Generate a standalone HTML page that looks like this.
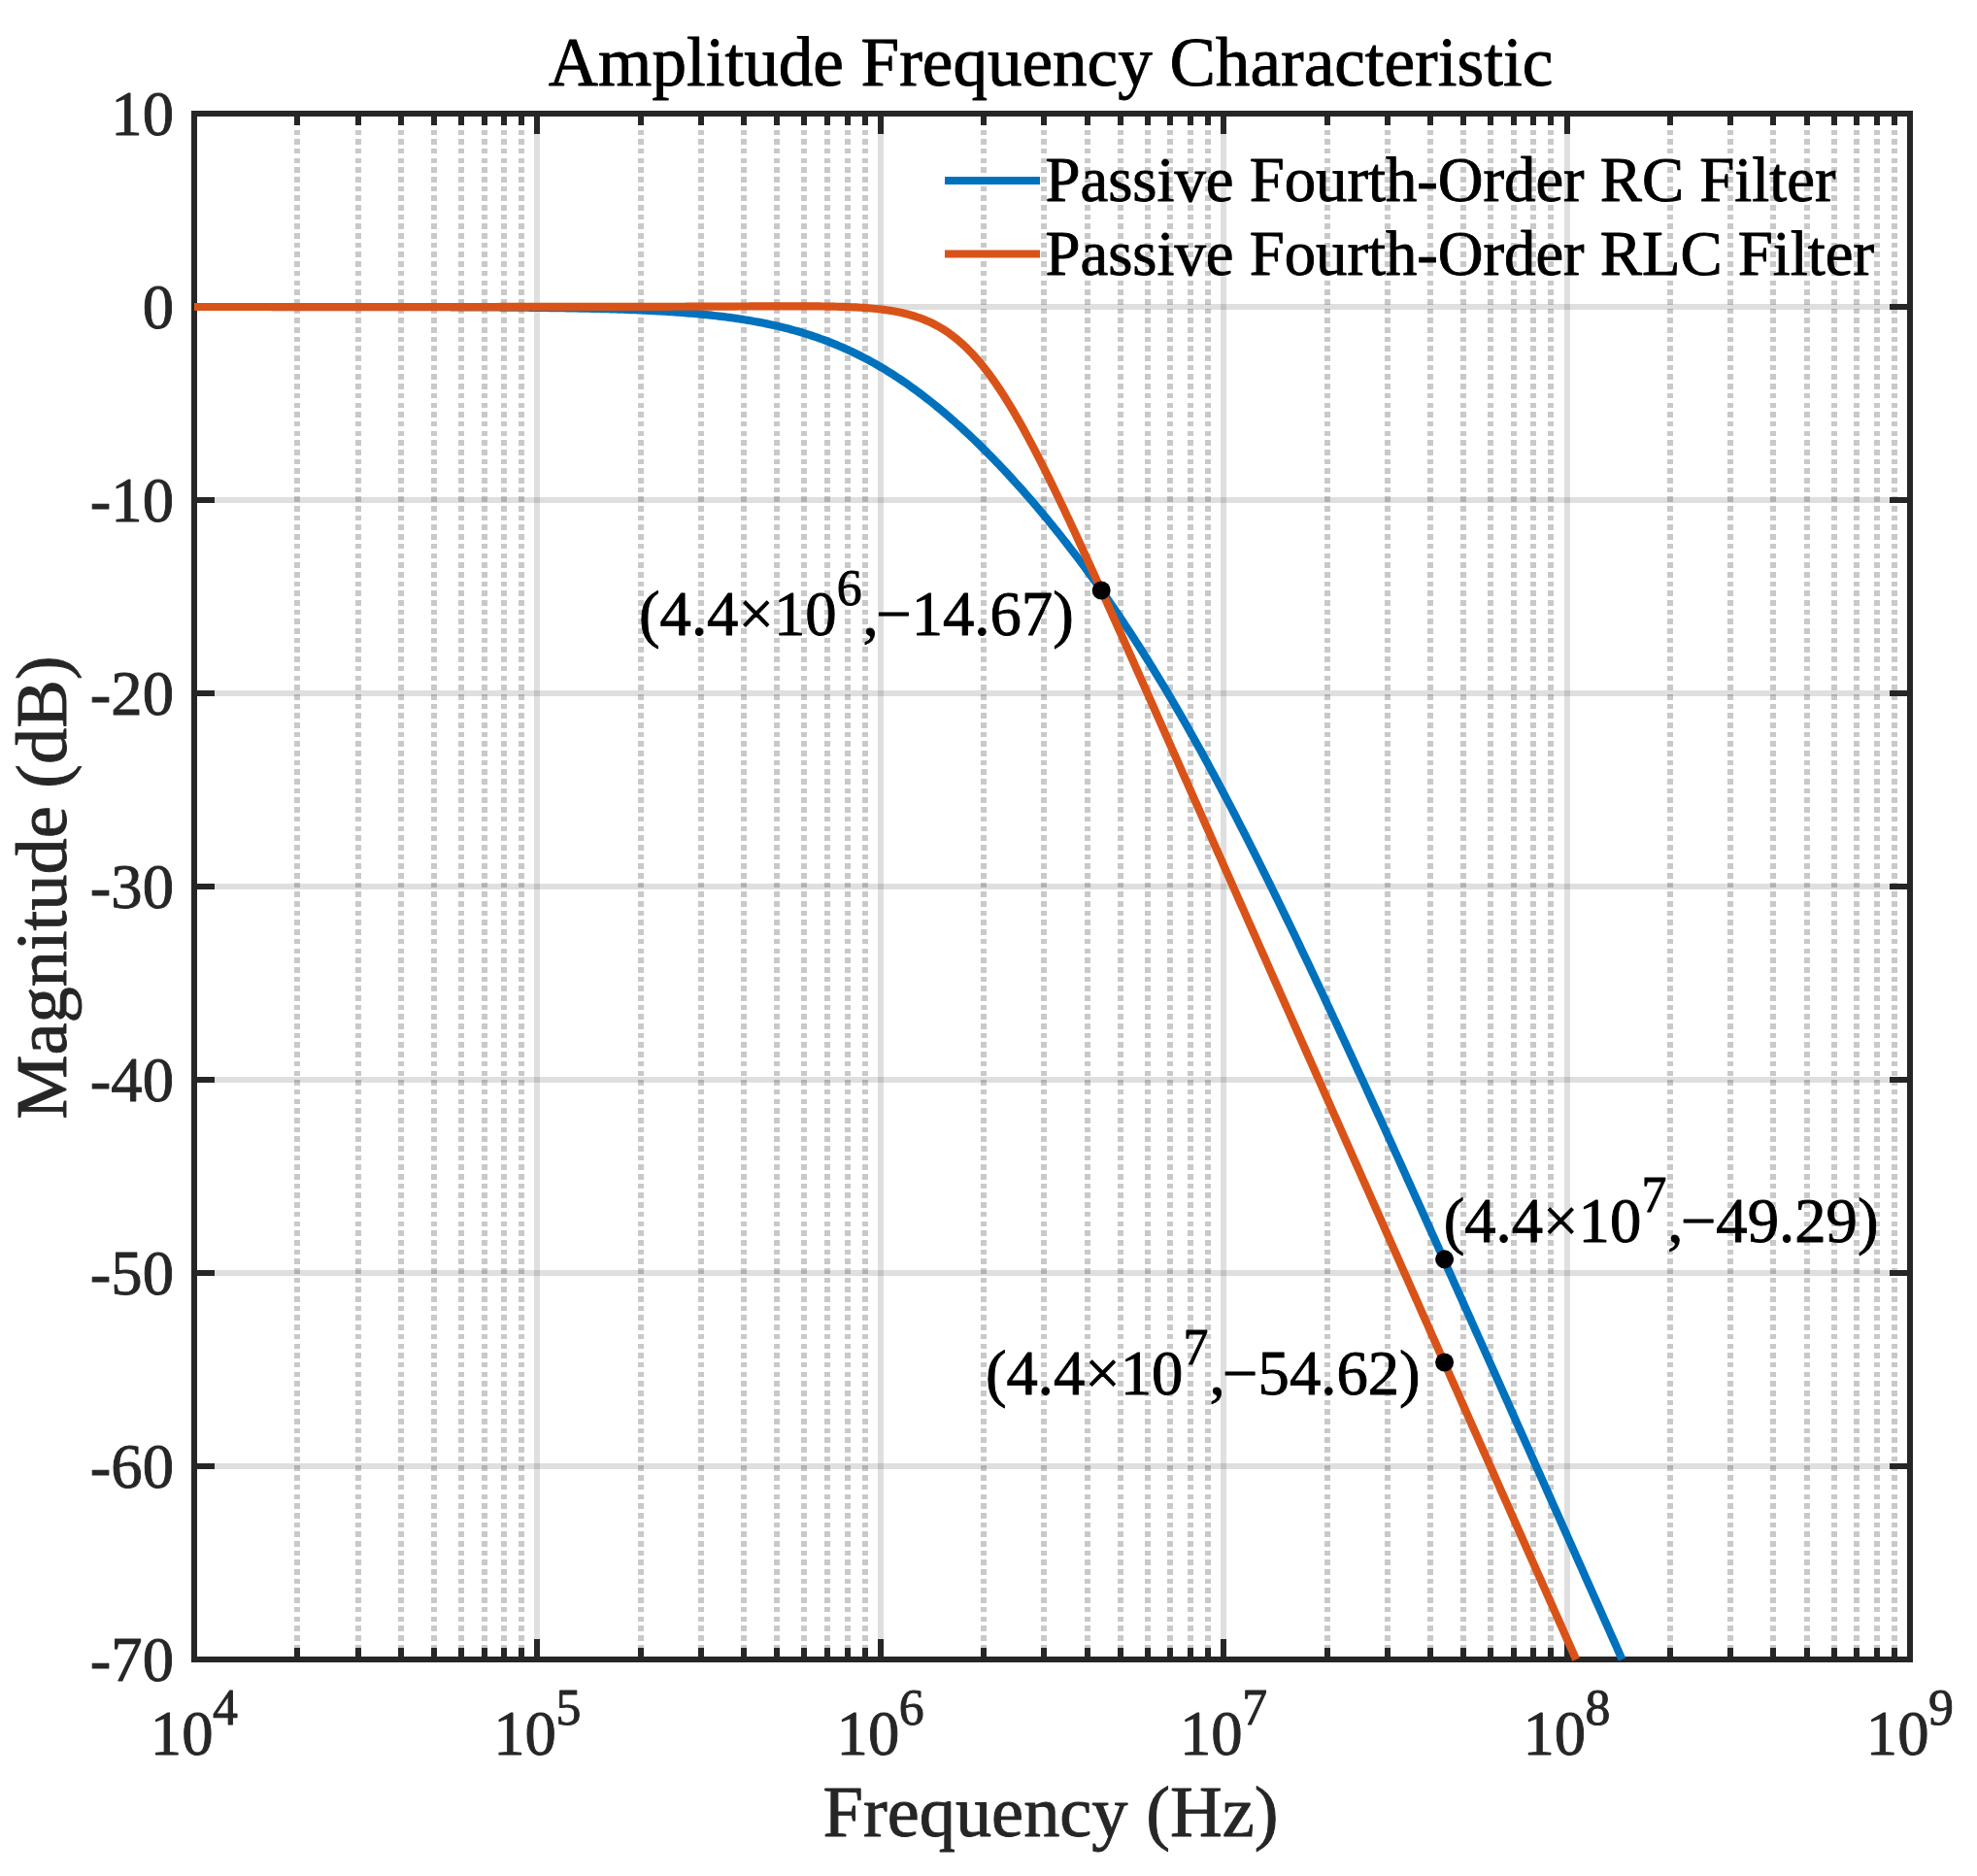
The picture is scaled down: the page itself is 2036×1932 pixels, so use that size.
<!DOCTYPE html>
<html lang="en"><head><meta charset="utf-8"><title>Amplitude Frequency Characteristic</title>
<style>html,body{margin:0;padding:0;background:#fff}body{width:2036px;height:1932px;overflow:hidden}svg{display:block}text{font-kerning:none;font-variant-ligatures:none;font-family:"Liberation Serif",serif;white-space:pre;stroke-width:0.9;stroke-linejoin:round}.k{fill:#000;stroke:#000}.g{fill:#262626;stroke:#262626}</style></head><body>
<svg width="2036" height="1932" viewBox="0 0 2036 1932">
<rect width="2036" height="1932" fill="#fff"/>
<path d="M306.38 117 V1709 M368.61 117 V1709 M412.77 117 V1709 M447.02 117 V1709 M475.00 117 V1709 M498.66 117 V1709 M519.15 117 V1709 M537.23 117 V1709 M659.78 117 V1709 M722.01 117 V1709 M766.17 117 V1709 M800.42 117 V1709 M828.40 117 V1709 M852.06 117 V1709 M872.55 117 V1709 M890.63 117 V1709 M1013.18 117 V1709 M1075.41 117 V1709 M1119.57 117 V1709 M1153.82 117 V1709 M1181.80 117 V1709 M1205.46 117 V1709 M1225.95 117 V1709 M1244.03 117 V1709 M1366.58 117 V1709 M1428.81 117 V1709 M1472.97 117 V1709 M1507.22 117 V1709 M1535.20 117 V1709 M1558.86 117 V1709 M1579.35 117 V1709 M1597.43 117 V1709 M1719.98 117 V1709 M1782.21 117 V1709 M1826.37 117 V1709 M1860.62 117 V1709 M1888.60 117 V1709 M1912.26 117 V1709 M1932.75 117 V1709 M1950.83 117 V1709" fill="none" stroke="#262626" stroke-opacity="0.25" stroke-width="6" stroke-dasharray="5.6 4.09" stroke-dashoffset="2.880" shape-rendering="crispEdges"/>
<path d="M553.40 117 V1709 M906.80 117 V1709 M1260.20 117 V1709 M1613.60 117 V1709" fill="none" stroke="#262626" stroke-opacity="0.15" stroke-width="6" shape-rendering="crispEdges"/>
<path d="M200 316.00 H1967 M200 515.00 H1967 M200 714.00 H1967 M200 913.00 H1967 M200 1112.00 H1967 M200 1311.00 H1967 M200 1510.00 H1967" fill="none" stroke="#262626" stroke-opacity="0.15" stroke-width="6" shape-rendering="crispEdges"/>
<path d="M306.38 1709 v-11.84 M306.38 117 v11.84 M368.61 1709 v-11.84 M368.61 117 v11.84 M412.77 1709 v-11.84 M412.77 117 v11.84 M447.02 1709 v-11.84 M447.02 117 v11.84 M475.00 1709 v-11.84 M475.00 117 v11.84 M498.66 1709 v-11.84 M498.66 117 v11.84 M519.15 1709 v-11.84 M519.15 117 v11.84 M537.23 1709 v-11.84 M537.23 117 v11.84 M553.40 1709 v-20.67 M553.40 117 v20.67 M659.78 1709 v-11.84 M659.78 117 v11.84 M722.01 1709 v-11.84 M722.01 117 v11.84 M766.17 1709 v-11.84 M766.17 117 v11.84 M800.42 1709 v-11.84 M800.42 117 v11.84 M828.40 1709 v-11.84 M828.40 117 v11.84 M852.06 1709 v-11.84 M852.06 117 v11.84 M872.55 1709 v-11.84 M872.55 117 v11.84 M890.63 1709 v-11.84 M890.63 117 v11.84 M906.80 1709 v-20.67 M906.80 117 v20.67 M1013.18 1709 v-11.84 M1013.18 117 v11.84 M1075.41 1709 v-11.84 M1075.41 117 v11.84 M1119.57 1709 v-11.84 M1119.57 117 v11.84 M1153.82 1709 v-11.84 M1153.82 117 v11.84 M1181.80 1709 v-11.84 M1181.80 117 v11.84 M1205.46 1709 v-11.84 M1205.46 117 v11.84 M1225.95 1709 v-11.84 M1225.95 117 v11.84 M1244.03 1709 v-11.84 M1244.03 117 v11.84 M1260.20 1709 v-20.67 M1260.20 117 v20.67 M1366.58 1709 v-11.84 M1366.58 117 v11.84 M1428.81 1709 v-11.84 M1428.81 117 v11.84 M1472.97 1709 v-11.84 M1472.97 117 v11.84 M1507.22 1709 v-11.84 M1507.22 117 v11.84 M1535.20 1709 v-11.84 M1535.20 117 v11.84 M1558.86 1709 v-11.84 M1558.86 117 v11.84 M1579.35 1709 v-11.84 M1579.35 117 v11.84 M1597.43 1709 v-11.84 M1597.43 117 v11.84 M1613.60 1709 v-20.67 M1613.60 117 v20.67 M1719.98 1709 v-11.84 M1719.98 117 v11.84 M1782.21 1709 v-11.84 M1782.21 117 v11.84 M1826.37 1709 v-11.84 M1826.37 117 v11.84 M1860.62 1709 v-11.84 M1860.62 117 v11.84 M1888.60 1709 v-11.84 M1888.60 117 v11.84 M1912.26 1709 v-11.84 M1912.26 117 v11.84 M1932.75 1709 v-11.84 M1932.75 117 v11.84 M1950.83 1709 v-11.84 M1950.83 117 v11.84 M200 316.00 h20.67 M1967 316.00 h-20.67 M200 515.00 h20.67 M1967 515.00 h-20.67 M200 714.00 h20.67 M1967 714.00 h-20.67 M200 913.00 h20.67 M1967 913.00 h-20.67 M200 1112.00 h20.67 M1967 1112.00 h-20.67 M200 1311.00 h20.67 M1967 1311.00 h-20.67 M200 1510.00 h20.67 M1967 1510.00 h-20.67" fill="none" stroke="#262626" stroke-width="6" shape-rendering="crispEdges"/>
<rect x="200" y="117" width="1767" height="1592" fill="none" stroke="#262626" stroke-width="6" shape-rendering="crispEdges"/>
<g fill="none" stroke-width="8.2" stroke-linejoin="round">
<path d="M200.00 316.01 L202.52 316.01 L205.05 316.01 L207.57 316.01 L210.10 316.01 L212.62 316.01 L215.15 316.01 L217.67 316.01 L220.19 316.01 L222.72 316.01 L225.24 316.01 L227.77 316.01 L230.29 316.01 L232.82 316.01 L235.34 316.01 L237.86 316.01 L240.39 316.01 L242.91 316.02 L245.44 316.02 L247.96 316.02 L250.49 316.02 L253.01 316.02 L255.53 316.02 L258.06 316.02 L260.58 316.02 L263.11 316.02 L265.63 316.02 L268.16 316.02 L270.68 316.02 L273.20 316.02 L275.73 316.02 L278.25 316.02 L280.78 316.03 L283.30 316.03 L285.83 316.03 L288.35 316.03 L290.87 316.03 L293.40 316.03 L295.92 316.03 L298.45 316.03 L300.97 316.03 L303.50 316.03 L306.02 316.04 L308.54 316.04 L311.07 316.04 L313.59 316.04 L316.12 316.04 L318.64 316.04 L321.17 316.04 L323.69 316.04 L326.21 316.05 L328.74 316.05 L331.26 316.05 L333.79 316.05 L336.31 316.05 L338.84 316.05 L341.36 316.06 L343.88 316.06 L346.41 316.06 L348.93 316.06 L351.46 316.06 L353.98 316.07 L356.51 316.07 L359.03 316.07 L361.55 316.07 L364.08 316.07 L366.60 316.08 L369.13 316.08 L371.65 316.08 L374.18 316.09 L376.70 316.09 L379.22 316.09 L381.75 316.09 L384.27 316.10 L386.80 316.10 L389.32 316.10 L391.85 316.11 L394.37 316.11 L396.89 316.11 L399.42 316.12 L401.94 316.12 L404.47 316.13 L406.99 316.13 L409.52 316.14 L412.04 316.14 L414.56 316.14 L417.09 316.15 L419.61 316.15 L422.14 316.16 L424.66 316.16 L427.19 316.17 L429.71 316.18 L432.23 316.18 L434.76 316.19 L437.28 316.19 L439.81 316.20 L442.33 316.21 L444.86 316.21 L447.38 316.22 L449.90 316.23 L452.43 316.24 L454.95 316.24 L457.48 316.25 L460.00 316.26 L462.53 316.27 L465.05 316.28 L467.57 316.29 L470.10 316.30 L472.62 316.31 L475.15 316.32 L477.67 316.33 L480.20 316.34 L482.72 316.35 L485.24 316.36 L487.77 316.37 L490.29 316.39 L492.82 316.40 L495.34 316.41 L497.87 316.43 L500.39 316.44 L502.91 316.46 L505.44 316.47 L507.96 316.49 L510.49 316.50 L513.01 316.52 L515.54 316.54 L518.06 316.56 L520.58 316.57 L523.11 316.59 L525.63 316.61 L528.16 316.63 L530.68 316.65 L533.21 316.68 L535.73 316.70 L538.25 316.72 L540.78 316.75 L543.30 316.77 L545.83 316.80 L548.35 316.82 L550.88 316.85 L553.40 316.88 L555.92 316.91 L558.45 316.94 L560.97 316.97 L563.50 317.00 L566.02 317.04 L568.55 317.07 L571.07 317.11 L573.59 317.14 L576.12 317.18 L578.64 317.22 L581.17 317.26 L583.69 317.30 L586.22 317.35 L588.74 317.39 L591.26 317.44 L593.79 317.48 L596.31 317.53 L598.84 317.58 L601.36 317.64 L603.89 317.69 L606.41 317.75 L608.93 317.80 L611.46 317.86 L613.98 317.93 L616.51 317.99 L619.03 318.06 L621.56 318.12 L624.08 318.19 L626.60 318.27 L629.13 318.34 L631.65 318.42 L634.18 318.50 L636.70 318.58 L639.23 318.66 L641.75 318.75 L644.27 318.84 L646.80 318.94 L649.32 319.03 L651.85 319.13 L654.37 319.24 L656.90 319.34 L659.42 319.45 L661.94 319.56 L664.47 319.68 L666.99 319.80 L669.52 319.93 L672.04 320.06 L674.57 320.19 L677.09 320.32 L679.61 320.47 L682.14 320.61 L684.66 320.76 L687.19 320.92 L689.71 321.08 L692.24 321.24 L694.76 321.41 L697.28 321.59 L699.81 321.77 L702.33 321.95 L704.86 322.15 L707.38 322.35 L709.91 322.55 L712.43 322.76 L714.95 322.98 L717.48 323.20 L720.00 323.43 L722.53 323.67 L725.05 323.92 L727.58 324.17 L730.10 324.43 L732.62 324.70 L735.15 324.98 L737.67 325.26 L740.20 325.56 L742.72 325.86 L745.25 326.17 L747.77 326.49 L750.29 326.82 L752.82 327.16 L755.34 327.52 L757.87 327.88 L760.39 328.25 L762.92 328.63 L765.44 329.02 L767.96 329.43 L770.49 329.84 L773.01 330.27 L775.54 330.71 L778.06 331.17 L780.59 331.63 L783.11 332.11 L785.63 332.60 L788.16 333.11 L790.68 333.63 L793.21 334.16 L795.73 334.71 L798.26 335.28 L800.78 335.86 L803.30 336.45 L805.83 337.06 L808.35 337.69 L810.88 338.33 L813.40 338.99 L815.93 339.67 L818.45 340.36 L820.97 341.07 L823.50 341.80 L826.02 342.55 L828.55 343.32 L831.07 344.11 L833.60 344.91 L836.12 345.74 L838.64 346.58 L841.17 347.45 L843.69 348.33 L846.22 349.24 L848.74 350.17 L851.27 351.11 L853.79 352.08 L856.31 353.08 L858.84 354.09 L861.36 355.13 L863.89 356.19 L866.41 357.27 L868.94 358.37 L871.46 359.50 L873.98 360.65 L876.51 361.83 L879.03 363.03 L881.56 364.25 L884.08 365.50 L886.61 366.77 L889.13 368.07 L891.65 369.39 L894.18 370.73 L896.70 372.10 L899.23 373.50 L901.75 374.92 L904.28 376.37 L906.80 377.84 L909.32 379.33 L911.85 380.86 L914.37 382.40 L916.90 383.98 L919.42 385.58 L921.95 387.20 L924.47 388.85 L926.99 390.53 L929.52 392.23 L932.04 393.96 L934.57 395.71 L937.09 397.49 L939.62 399.29 L942.14 401.12 L944.66 402.97 L947.19 404.85 L949.71 406.76 L952.24 408.69 L954.76 410.64 L957.29 412.62 L959.81 414.62 L962.33 416.65 L964.86 418.71 L967.38 420.78 L969.91 422.89 L972.43 425.01 L974.96 427.16 L977.48 429.34 L980.00 431.54 L982.53 433.76 L985.05 436.00 L987.58 438.27 L990.10 440.56 L992.63 442.88 L995.15 445.22 L997.67 447.58 L1000.20 449.96 L1002.72 452.37 L1005.25 454.80 L1007.77 457.25 L1010.30 459.72 L1012.82 462.22 L1015.34 464.73 L1017.87 467.27 L1020.39 469.84 L1022.92 472.42 L1025.44 475.03 L1027.97 477.65 L1030.49 480.30 L1033.01 482.97 L1035.54 485.66 L1038.06 488.38 L1040.59 491.11 L1043.11 493.87 L1045.64 496.64 L1048.16 499.44 L1050.68 502.26 L1053.21 505.10 L1055.73 507.96 L1058.26 510.85 L1060.78 513.75 L1063.31 516.68 L1065.83 519.62 L1068.35 522.59 L1070.88 525.58 L1073.40 528.59 L1075.93 531.63 L1078.45 534.68 L1080.98 537.76 L1083.50 540.86 L1086.02 543.98 L1088.55 547.12 L1091.07 550.28 L1093.60 553.47 L1096.12 556.67 L1098.65 559.90 L1101.17 563.16 L1103.69 566.43 L1106.22 569.73 L1108.74 573.05 L1111.27 576.39 L1113.79 579.76 L1116.32 583.15 L1118.84 586.56 L1121.36 590.00 L1123.89 593.46 L1126.41 596.94 L1128.94 600.44 L1131.46 603.98 L1133.99 607.53 L1136.51 611.11 L1139.03 614.71 L1141.56 618.34 L1144.08 621.99 L1146.61 625.67 L1149.13 629.37 L1151.66 633.10 L1154.18 636.85 L1156.70 640.62 L1159.23 644.43 L1161.75 648.25 L1164.28 652.11 L1166.80 655.98 L1169.33 659.89 L1171.85 663.81 L1174.37 667.77 L1176.90 671.75 L1179.42 675.75 L1181.95 679.78 L1184.47 683.84 L1187.00 687.92 L1189.52 692.03 L1192.04 696.16 L1194.57 700.32 L1197.09 704.50 L1199.62 708.71 L1202.14 712.95 L1204.67 717.21 L1207.19 721.49 L1209.71 725.80 L1212.24 730.14 L1214.76 734.49 L1217.29 738.88 L1219.81 743.29 L1222.34 747.72 L1224.86 752.18 L1227.38 756.66 L1229.91 761.17 L1232.43 765.70 L1234.96 770.25 L1237.48 774.83 L1240.01 779.43 L1242.53 784.05 L1245.05 788.69 L1247.58 793.36 L1250.10 798.05 L1252.63 802.76 L1255.15 807.49 L1257.68 812.25 L1260.20 817.02 L1262.72 821.82 L1265.25 826.64 L1267.77 831.47 L1270.30 836.33 L1272.82 841.21 L1275.35 846.10 L1277.87 851.02 L1280.39 855.95 L1282.92 860.90 L1285.44 865.87 L1287.97 870.86 L1290.49 875.87 L1293.02 880.89 L1295.54 885.93 L1298.06 890.99 L1300.59 896.06 L1303.11 901.15 L1305.64 906.25 L1308.16 911.37 L1310.69 916.50 L1313.21 921.65 L1315.73 926.81 L1318.26 931.99 L1320.78 937.18 L1323.31 942.39 L1325.83 947.60 L1328.36 952.83 L1330.88 958.08 L1333.40 963.33 L1335.93 968.60 L1338.45 973.88 L1340.98 979.17 L1343.50 984.47 L1346.03 989.78 L1348.55 995.10 L1351.07 1000.44 L1353.60 1005.78 L1356.12 1011.13 L1358.65 1016.49 L1361.17 1021.87 L1363.70 1027.25 L1366.22 1032.64 L1368.74 1038.04 L1371.27 1043.44 L1373.79 1048.86 L1376.32 1054.28 L1378.84 1059.71 L1381.37 1065.15 L1383.89 1070.60 L1386.41 1076.05 L1388.94 1081.51 L1391.46 1086.98 L1393.99 1092.45 L1396.51 1097.93 L1399.04 1103.42 L1401.56 1108.91 L1404.08 1114.41 L1406.61 1119.91 L1409.13 1125.42 L1411.66 1130.93 L1414.18 1136.45 L1416.71 1141.98 L1419.23 1147.51 L1421.75 1153.04 L1424.28 1158.58 L1426.80 1164.13 L1429.33 1169.67 L1431.85 1175.23 L1434.38 1180.78 L1436.90 1186.34 L1439.42 1191.91 L1441.95 1197.48 L1444.47 1203.05 L1447.00 1208.62 L1449.52 1214.20 L1452.05 1219.78 L1454.57 1225.37 L1457.09 1230.96 L1459.62 1236.55 L1462.14 1242.14 L1464.67 1247.74 L1467.19 1253.34 L1469.72 1258.94 L1472.24 1264.55 L1474.76 1270.16 L1477.29 1275.77 L1479.81 1281.38 L1482.34 1287.00 L1484.86 1292.61 L1487.39 1298.23 L1489.91 1303.85 L1492.43 1309.48 L1494.96 1315.10 L1497.48 1320.73 L1500.01 1326.36 L1502.53 1331.99 L1505.06 1337.63 L1507.58 1343.26 L1510.10 1348.90 L1512.63 1354.53 L1515.15 1360.17 L1517.68 1365.81 L1520.20 1371.46 L1522.73 1377.10 L1525.25 1382.74 L1527.77 1388.39 L1530.30 1394.04 L1532.82 1399.69 L1535.35 1405.34 L1537.87 1410.99 L1540.40 1416.64 L1542.92 1422.29 L1545.44 1427.95 L1547.97 1433.60 L1550.49 1439.26 L1553.02 1444.92 L1555.54 1450.57 L1558.07 1456.23 L1560.59 1461.89 L1563.11 1467.55 L1565.64 1473.22 L1568.16 1478.88 L1570.69 1484.54 L1573.21 1490.20 L1575.74 1495.87 L1578.26 1501.53 L1580.78 1507.20 L1583.31 1512.87 L1585.83 1518.53 L1588.36 1524.20 L1590.88 1529.87 L1593.41 1535.54 L1595.93 1541.21 L1598.45 1546.88 L1600.98 1552.55 L1603.50 1558.22 L1606.03 1563.89 L1608.55 1569.56 L1611.08 1575.23 L1613.60 1580.91 L1616.12 1586.58 L1618.65 1592.25 L1621.17 1597.93 L1623.70 1603.60 L1626.22 1609.28 L1628.75 1614.95 L1631.27 1620.63 L1633.79 1626.30 L1636.32 1631.98 L1638.84 1637.65 L1641.37 1643.33 L1643.89 1649.01 L1646.42 1654.69 L1648.94 1660.36 L1651.46 1666.04 L1653.99 1671.72 L1656.51 1677.40 L1659.04 1683.08 L1661.56 1688.75 L1664.09 1694.43 L1666.61 1700.11 L1669.13 1705.79 L1670.56 1709.00" stroke="#0072BD"/>
<path d="M200.00 316.00 L202.52 316.00 L205.05 316.00 L207.57 316.00 L210.10 316.00 L212.62 316.00 L215.15 316.00 L217.67 316.00 L220.19 316.00 L222.72 316.00 L225.24 316.00 L227.77 316.00 L230.29 316.00 L232.82 316.00 L235.34 316.00 L237.86 316.00 L240.39 316.00 L242.91 316.00 L245.44 316.00 L247.96 316.00 L250.49 316.00 L253.01 316.00 L255.53 316.00 L258.06 316.00 L260.58 316.00 L263.11 316.00 L265.63 316.00 L268.16 316.00 L270.68 316.00 L273.20 316.00 L275.73 316.00 L278.25 316.00 L280.78 316.00 L283.30 316.00 L285.83 316.00 L288.35 316.00 L290.87 316.00 L293.40 316.00 L295.92 316.00 L298.45 316.00 L300.97 316.00 L303.50 316.00 L306.02 316.00 L308.54 316.00 L311.07 316.00 L313.59 316.00 L316.12 316.00 L318.64 316.00 L321.17 316.00 L323.69 316.00 L326.21 316.00 L328.74 316.00 L331.26 316.00 L333.79 316.00 L336.31 316.00 L338.84 316.00 L341.36 316.00 L343.88 316.00 L346.41 316.00 L348.93 316.00 L351.46 316.00 L353.98 316.00 L356.51 316.00 L359.03 316.00 L361.55 316.00 L364.08 316.00 L366.60 316.00 L369.13 316.00 L371.65 316.00 L374.18 316.00 L376.70 316.00 L379.22 316.00 L381.75 316.00 L384.27 316.00 L386.80 316.00 L389.32 316.00 L391.85 315.99 L394.37 315.99 L396.89 315.99 L399.42 315.99 L401.94 315.99 L404.47 315.99 L406.99 315.99 L409.52 315.99 L412.04 315.99 L414.56 315.99 L417.09 315.99 L419.61 315.99 L422.14 315.99 L424.66 315.99 L427.19 315.99 L429.71 315.99 L432.23 315.99 L434.76 315.99 L437.28 315.99 L439.81 315.99 L442.33 315.99 L444.86 315.99 L447.38 315.99 L449.90 315.99 L452.43 315.99 L454.95 315.99 L457.48 315.99 L460.00 315.99 L462.53 315.99 L465.05 315.99 L467.57 315.99 L470.10 315.99 L472.62 315.99 L475.15 315.98 L477.67 315.98 L480.20 315.98 L482.72 315.98 L485.24 315.98 L487.77 315.98 L490.29 315.98 L492.82 315.98 L495.34 315.98 L497.87 315.98 L500.39 315.98 L502.91 315.98 L505.44 315.98 L507.96 315.98 L510.49 315.98 L513.01 315.98 L515.54 315.97 L518.06 315.97 L520.58 315.97 L523.11 315.97 L525.63 315.97 L528.16 315.97 L530.68 315.97 L533.21 315.97 L535.73 315.97 L538.25 315.97 L540.78 315.96 L543.30 315.96 L545.83 315.96 L548.35 315.96 L550.88 315.96 L553.40 315.96 L555.92 315.96 L558.45 315.96 L560.97 315.95 L563.50 315.95 L566.02 315.95 L568.55 315.95 L571.07 315.95 L573.59 315.95 L576.12 315.94 L578.64 315.94 L581.17 315.94 L583.69 315.94 L586.22 315.94 L588.74 315.94 L591.26 315.93 L593.79 315.93 L596.31 315.93 L598.84 315.93 L601.36 315.92 L603.89 315.92 L606.41 315.92 L608.93 315.92 L611.46 315.91 L613.98 315.91 L616.51 315.91 L619.03 315.90 L621.56 315.90 L624.08 315.90 L626.60 315.90 L629.13 315.89 L631.65 315.89 L634.18 315.89 L636.70 315.88 L639.23 315.88 L641.75 315.87 L644.27 315.87 L646.80 315.87 L649.32 315.86 L651.85 315.86 L654.37 315.85 L656.90 315.85 L659.42 315.84 L661.94 315.84 L664.47 315.83 L666.99 315.83 L669.52 315.82 L672.04 315.82 L674.57 315.81 L677.09 315.81 L679.61 315.80 L682.14 315.79 L684.66 315.79 L687.19 315.78 L689.71 315.78 L692.24 315.77 L694.76 315.76 L697.28 315.75 L699.81 315.75 L702.33 315.74 L704.86 315.73 L707.38 315.72 L709.91 315.72 L712.43 315.71 L714.95 315.70 L717.48 315.69 L720.00 315.68 L722.53 315.67 L725.05 315.67 L727.58 315.66 L730.10 315.65 L732.62 315.64 L735.15 315.63 L737.67 315.62 L740.20 315.61 L742.72 315.60 L745.25 315.59 L747.77 315.58 L750.29 315.57 L752.82 315.56 L755.34 315.55 L757.87 315.54 L760.39 315.52 L762.92 315.51 L765.44 315.50 L767.96 315.49 L770.49 315.48 L773.01 315.47 L775.54 315.46 L778.06 315.45 L780.59 315.44 L783.11 315.43 L785.63 315.42 L788.16 315.41 L790.68 315.40 L793.21 315.39 L795.73 315.38 L798.26 315.38 L800.78 315.37 L803.30 315.36 L805.83 315.36 L808.35 315.35 L810.88 315.35 L813.40 315.35 L815.93 315.34 L818.45 315.34 L820.97 315.35 L823.50 315.35 L826.02 315.35 L828.55 315.36 L831.07 315.37 L833.60 315.38 L836.12 315.40 L838.64 315.41 L841.17 315.43 L843.69 315.46 L846.22 315.48 L848.74 315.51 L851.27 315.55 L853.79 315.59 L856.31 315.63 L858.84 315.69 L861.36 315.74 L863.89 315.80 L866.41 315.87 L868.94 315.95 L871.46 316.04 L873.98 316.13 L876.51 316.23 L879.03 316.35 L881.56 316.47 L884.08 316.61 L886.61 316.76 L889.13 316.92 L891.65 317.09 L894.18 317.28 L896.70 317.49 L899.23 317.72 L901.75 317.96 L904.28 318.22 L906.80 318.51 L909.32 318.82 L911.85 319.15 L914.37 319.51 L916.90 319.90 L919.42 320.31 L921.95 320.76 L924.47 321.24 L926.99 321.76 L929.52 322.31 L932.04 322.91 L934.57 323.54 L937.09 324.22 L939.62 324.95 L942.14 325.72 L944.66 326.55 L947.19 327.43 L949.71 328.37 L952.24 329.36 L954.76 330.43 L957.29 331.55 L959.81 332.74 L962.33 334.01 L964.86 335.35 L967.38 336.76 L969.91 338.25 L972.43 339.83 L974.96 341.49 L977.48 343.23 L980.00 345.07 L982.53 346.99 L985.05 349.01 L987.58 351.13 L990.10 353.34 L992.63 355.65 L995.15 358.06 L997.67 360.57 L1000.20 363.18 L1002.72 365.89 L1005.25 368.71 L1007.77 371.62 L1010.30 374.64 L1012.82 377.76 L1015.34 380.99 L1017.87 384.31 L1020.39 387.73 L1022.92 391.25 L1025.44 394.87 L1027.97 398.58 L1030.49 402.38 L1033.01 406.27 L1035.54 410.25 L1038.06 414.32 L1040.59 418.47 L1043.11 422.70 L1045.64 427.00 L1048.16 431.39 L1050.68 435.84 L1053.21 440.36 L1055.73 444.96 L1058.26 449.61 L1060.78 454.33 L1063.31 459.10 L1065.83 463.93 L1068.35 468.81 L1070.88 473.75 L1073.40 478.73 L1075.93 483.76 L1078.45 488.83 L1080.98 493.94 L1083.50 499.09 L1086.02 504.27 L1088.55 509.49 L1091.07 514.75 L1093.60 520.03 L1096.12 525.34 L1098.65 530.68 L1101.17 536.04 L1103.69 541.43 L1106.22 546.84 L1108.74 552.27 L1111.27 557.72 L1113.79 563.19 L1116.32 568.68 L1118.84 574.18 L1121.36 579.70 L1123.89 585.23 L1126.41 590.77 L1128.94 596.33 L1131.46 601.89 L1133.99 607.47 L1136.51 613.06 L1139.03 618.65 L1141.56 624.26 L1144.08 629.87 L1146.61 635.49 L1149.13 641.11 L1151.66 646.75 L1154.18 652.38 L1156.70 658.03 L1159.23 663.67 L1161.75 669.33 L1164.28 674.98 L1166.80 680.64 L1169.33 686.31 L1171.85 691.98 L1174.37 697.65 L1176.90 703.32 L1179.42 708.99 L1181.95 714.67 L1184.47 720.35 L1187.00 726.03 L1189.52 731.72 L1192.04 737.40 L1194.57 743.09 L1197.09 748.78 L1199.62 754.46 L1202.14 760.15 L1204.67 765.84 L1207.19 771.54 L1209.71 777.23 L1212.24 782.92 L1214.76 788.62 L1217.29 794.31 L1219.81 800.00 L1222.34 805.70 L1224.86 811.39 L1227.38 817.09 L1229.91 822.79 L1232.43 828.48 L1234.96 834.18 L1237.48 839.87 L1240.01 845.57 L1242.53 851.27 L1245.05 856.96 L1247.58 862.66 L1250.10 868.36 L1252.63 874.05 L1255.15 879.75 L1257.68 885.45 L1260.20 891.14 L1262.72 896.84 L1265.25 902.53 L1267.77 908.23 L1270.30 913.93 L1272.82 919.62 L1275.35 925.32 L1277.87 931.01 L1280.39 936.71 L1282.92 942.40 L1285.44 948.10 L1287.97 953.79 L1290.49 959.49 L1293.02 965.18 L1295.54 970.88 L1298.06 976.57 L1300.59 982.26 L1303.11 987.96 L1305.64 993.65 L1308.16 999.34 L1310.69 1005.04 L1313.21 1010.73 L1315.73 1016.42 L1318.26 1022.11 L1320.78 1027.81 L1323.31 1033.50 L1325.83 1039.19 L1328.36 1044.88 L1330.88 1050.57 L1333.40 1056.27 L1335.93 1061.96 L1338.45 1067.65 L1340.98 1073.34 L1343.50 1079.03 L1346.03 1084.72 L1348.55 1090.41 L1351.07 1096.10 L1353.60 1101.79 L1356.12 1107.48 L1358.65 1113.17 L1361.17 1118.86 L1363.70 1124.55 L1366.22 1130.24 L1368.74 1135.93 L1371.27 1141.62 L1373.79 1147.31 L1376.32 1153.00 L1378.84 1158.69 L1381.37 1164.38 L1383.89 1170.07 L1386.41 1175.76 L1388.94 1181.45 L1391.46 1187.13 L1393.99 1192.82 L1396.51 1198.51 L1399.04 1204.20 L1401.56 1209.89 L1404.08 1215.58 L1406.61 1221.26 L1409.13 1226.95 L1411.66 1232.64 L1414.18 1238.33 L1416.71 1244.02 L1419.23 1249.70 L1421.75 1255.39 L1424.28 1261.08 L1426.80 1266.77 L1429.33 1272.46 L1431.85 1278.14 L1434.38 1283.83 L1436.90 1289.52 L1439.42 1295.21 L1441.95 1300.89 L1444.47 1306.58 L1447.00 1312.27 L1449.52 1317.95 L1452.05 1323.64 L1454.57 1329.33 L1457.09 1335.02 L1459.62 1340.70 L1462.14 1346.39 L1464.67 1352.08 L1467.19 1357.76 L1469.72 1363.45 L1472.24 1369.14 L1474.76 1374.82 L1477.29 1380.51 L1479.81 1386.20 L1482.34 1391.88 L1484.86 1397.57 L1487.39 1403.26 L1489.91 1408.94 L1492.43 1414.63 L1494.96 1420.32 L1497.48 1426.00 L1500.01 1431.69 L1502.53 1437.38 L1505.06 1443.06 L1507.58 1448.75 L1510.10 1454.44 L1512.63 1460.12 L1515.15 1465.81 L1517.68 1471.49 L1520.20 1477.18 L1522.73 1482.87 L1525.25 1488.55 L1527.77 1494.24 L1530.30 1499.93 L1532.82 1505.61 L1535.35 1511.30 L1537.87 1516.99 L1540.40 1522.67 L1542.92 1528.36 L1545.44 1534.04 L1547.97 1539.73 L1550.49 1545.42 L1553.02 1551.10 L1555.54 1556.79 L1558.07 1562.47 L1560.59 1568.16 L1563.11 1573.85 L1565.64 1579.53 L1568.16 1585.22 L1570.69 1590.90 L1573.21 1596.59 L1575.74 1602.28 L1578.26 1607.96 L1580.78 1613.65 L1583.31 1619.33 L1585.83 1625.02 L1588.36 1630.71 L1590.88 1636.39 L1593.41 1642.08 L1595.93 1647.76 L1598.45 1653.45 L1600.98 1659.14 L1603.50 1664.82 L1606.03 1670.51 L1608.55 1676.19 L1611.08 1681.88 L1613.60 1687.57 L1616.12 1693.25 L1618.65 1698.94 L1621.17 1704.62 L1623.12 1709.00" stroke="#D95319"/>
</g>
<circle cx="1134.20" cy="607.93" r="9.5" fill="#000"/>
<circle cx="1487.60" cy="1296.87" r="9.5" fill="#000"/>
<circle cx="1487.60" cy="1402.94" r="9.5" fill="#000"/>
<path d="M973 186 H1071" stroke="#0072BD" stroke-width="8.2" fill="none"/>
<path d="M973 261.5 H1071" stroke="#D95319" stroke-width="8.2" fill="none"/>
<text class="k" x="1076.5" y="207.3" font-size="64.7">Passive Fourth-Order RC Filter</text>
<text class="k" x="1076.5" y="283.4" font-size="64.7">Passive Fourth-Order RLC Filter</text>
<text class="k" x="1082" y="87.8" font-size="71.1" text-anchor="middle">Amplitude Frequency Characteristic</text>
<text class="g" x="1082" y="1890.8" font-size="74.4" text-anchor="middle">Frequency (Hz)</text>
<text class="g" transform="translate(68 914) rotate(-90)" font-size="74.4" text-anchor="middle">Magnitude (dB)</text>
<text class="g" x="179" y="138.90" font-size="64.7" text-anchor="end">10</text>
<text class="g" x="179" y="337.90" font-size="64.7" text-anchor="end">0</text>
<text class="g" x="179" y="536.90" font-size="64.7" text-anchor="end">-10</text>
<text class="g" x="179" y="735.90" font-size="64.7" text-anchor="end">-20</text>
<text class="g" x="179" y="934.90" font-size="64.7" text-anchor="end">-30</text>
<text class="g" x="179" y="1133.90" font-size="64.7" text-anchor="end">-40</text>
<text class="g" x="179" y="1332.90" font-size="64.7" text-anchor="end">-50</text>
<text class="g" x="179" y="1531.90" font-size="64.7" text-anchor="end">-60</text>
<text class="g" x="179" y="1730.90" font-size="64.7" text-anchor="end">-70</text>
<text class="g" x="154.80" y="1807" font-size="64.7">10</text>
<text class="g" x="219.00" y="1775.8" font-size="51.8">4</text>
<text class="g" x="508.20" y="1807" font-size="64.7">10</text>
<text class="g" x="572.40" y="1775.8" font-size="51.8">5</text>
<text class="g" x="861.60" y="1807" font-size="64.7">10</text>
<text class="g" x="925.80" y="1775.8" font-size="51.8">6</text>
<text class="g" x="1215.00" y="1807" font-size="64.7">10</text>
<text class="g" x="1279.20" y="1775.8" font-size="51.8">7</text>
<text class="g" x="1568.40" y="1807" font-size="64.7">10</text>
<text class="g" x="1632.60" y="1775.8" font-size="51.8">8</text>
<text class="g" x="1921.80" y="1807" font-size="64.7">10</text>
<text class="g" x="1986.00" y="1775.8" font-size="51.8">9</text>
<text class="k" x="658" y="653.9" font-size="64.7">(4.4×10</text><text class="k" x="861.7" y="622.9" font-size="51.8">6</text><text class="k" x="888.5" y="653.9" font-size="64.7">,</text><text class="k" x="902.2" y="653.9" font-size="64.7">−14.67)</text>
<text class="k" x="1486.7" y="1278.9" font-size="64.7">(4.4×10</text><text class="k" x="1690.4" y="1247.9" font-size="51.8">7</text><text class="k" x="1717.2" y="1278.9" font-size="64.7">,</text><text class="k" x="1730.9" y="1278.9" font-size="64.7">−49.29)</text>
<text class="k" x="1014.9" y="1436" font-size="64.7">(4.4×10</text><text class="k" x="1218.6" y="1405" font-size="51.8">7</text><text class="k" x="1245.4" y="1436" font-size="64.7">,</text><text class="k" x="1259.1" y="1436" font-size="64.7">−54.62)</text>
</svg></body></html>
